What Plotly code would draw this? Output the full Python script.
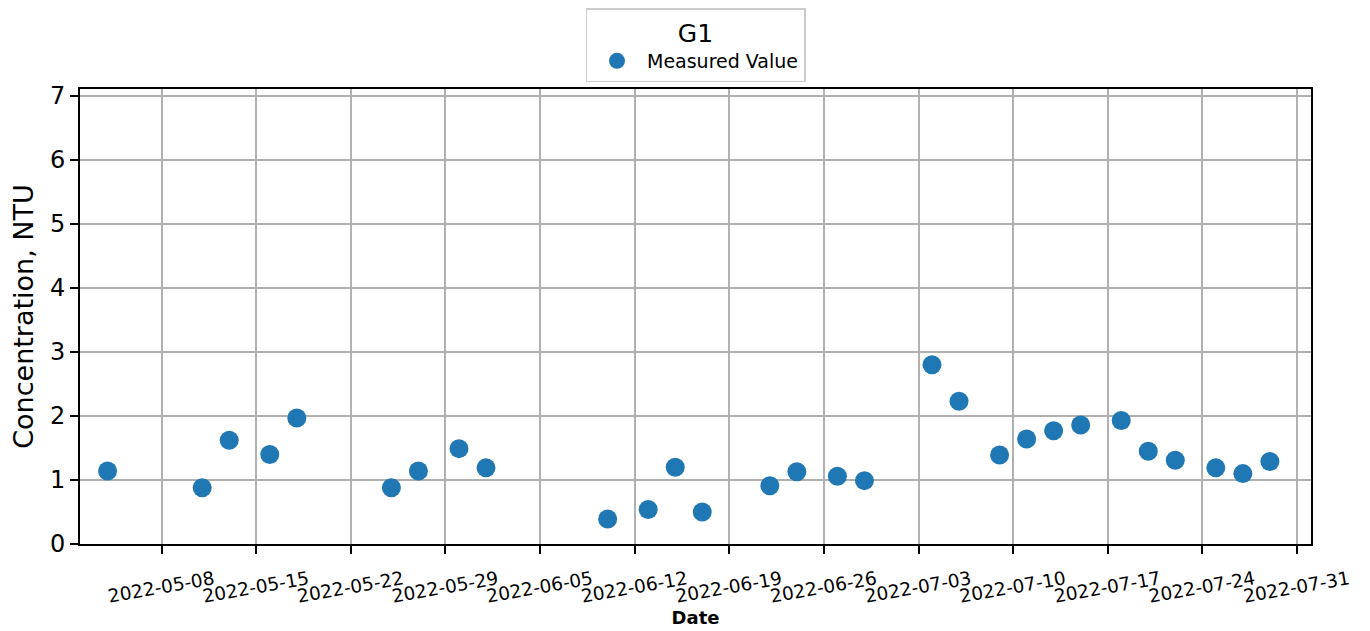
import plotly.graph_objects as go

dates = ['2022-05-04', '2022-05-11', '2022-05-13', '2022-05-16', '2022-05-18',
         '2022-05-25', '2022-05-27', '2022-05-30', '2022-06-01', '2022-06-10',
         '2022-06-13', '2022-06-15', '2022-06-17', '2022-06-22', '2022-06-24',
         '2022-06-27', '2022-06-29', '2022-07-04', '2022-07-06', '2022-07-09',
         '2022-07-11', '2022-07-13', '2022-07-15', '2022-07-18', '2022-07-20',
         '2022-07-22', '2022-07-25', '2022-07-27', '2022-07-29']
values = [1.14, 0.88, 1.62, 1.40, 1.97, 0.88, 1.14, 1.49, 1.19, 0.39,
          0.54, 1.20, 0.50, 0.91, 1.13, 1.06, 0.99, 2.80, 2.23, 1.39,
          1.64, 1.77, 1.86, 1.93, 1.45, 1.31, 1.19, 1.10, 1.29]
series_name = 'Measured Value'
legend_title = 'G1'
y_ticks = [0, 1, 2, 3, 4, 5, 6, 7]

FONT = 'DejaVu Sans'
PAGE_OFFSET = 8  # default body margin of the html page

fig = go.Figure()
fig.add_trace(go.Scatter(
    x=dates, y=values, mode='markers', name=series_name,
    marker=dict(color='#1f77b4', size=19, line=dict(width=0)),
    showlegend=True,
))

axis_common = dict(
    showline=True, linecolor='black', linewidth=2, mirror=True,
    showgrid=True, gridcolor='#b0b0b0', gridwidth=1.5,
    ticks='outside', ticklen=8, tickwidth=2, tickcolor='black',
    zeroline=False, automargin=False,
)

fig.update_layout(
    width=1370, height=631,
    margin=dict(l=80 - PAGE_OFFSET, r=59 + PAGE_OFFSET,
                t=89 - PAGE_OFFSET, b=87 + PAGE_OFFSET, autoexpand=False),
    paper_bgcolor='white', plot_bgcolor='white',
    font=dict(family=FONT, color='black'),
    showlegend=True,
    legend=dict(
        x=0.5, xanchor='center', xref='paper',
        y=1 + 1 / 631, yanchor='top', yref='container',
        bordercolor='#cccccc', borderwidth=1.5, bgcolor='white',
        itemwidth=50,
        font=dict(size=19, family=FONT),
        title=dict(text=legend_title, side='top center', font=dict(size=25, family=FONT)),
    ),
    xaxis=dict(
        **axis_common,
        type='date',
        range=['2022-05-01 23:00', '2022-08-01 01:00'],
        tick0='2022-05-08', dtick=7 * 24 * 3600 * 1000,
        tickformat='%Y-%m-%d', tickangle=-10,
        ticklabelshift=52, ticklabelstandoff=8,
        tickfont=dict(size=18.5, family=FONT),
        title=dict(text='<b>Date</b>', font=dict(size=18, family=FONT), standoff=5),
    ),
    yaxis=dict(
        **axis_common,
        range=[0, 7.11],
        tickvals=y_ticks,
        tickfont=dict(size=24, family=FONT),
        title=dict(text='Concentration, NTU', font=dict(size=27, family=FONT), standoff=14),
    ),
)

fig.write_html('out.html')
